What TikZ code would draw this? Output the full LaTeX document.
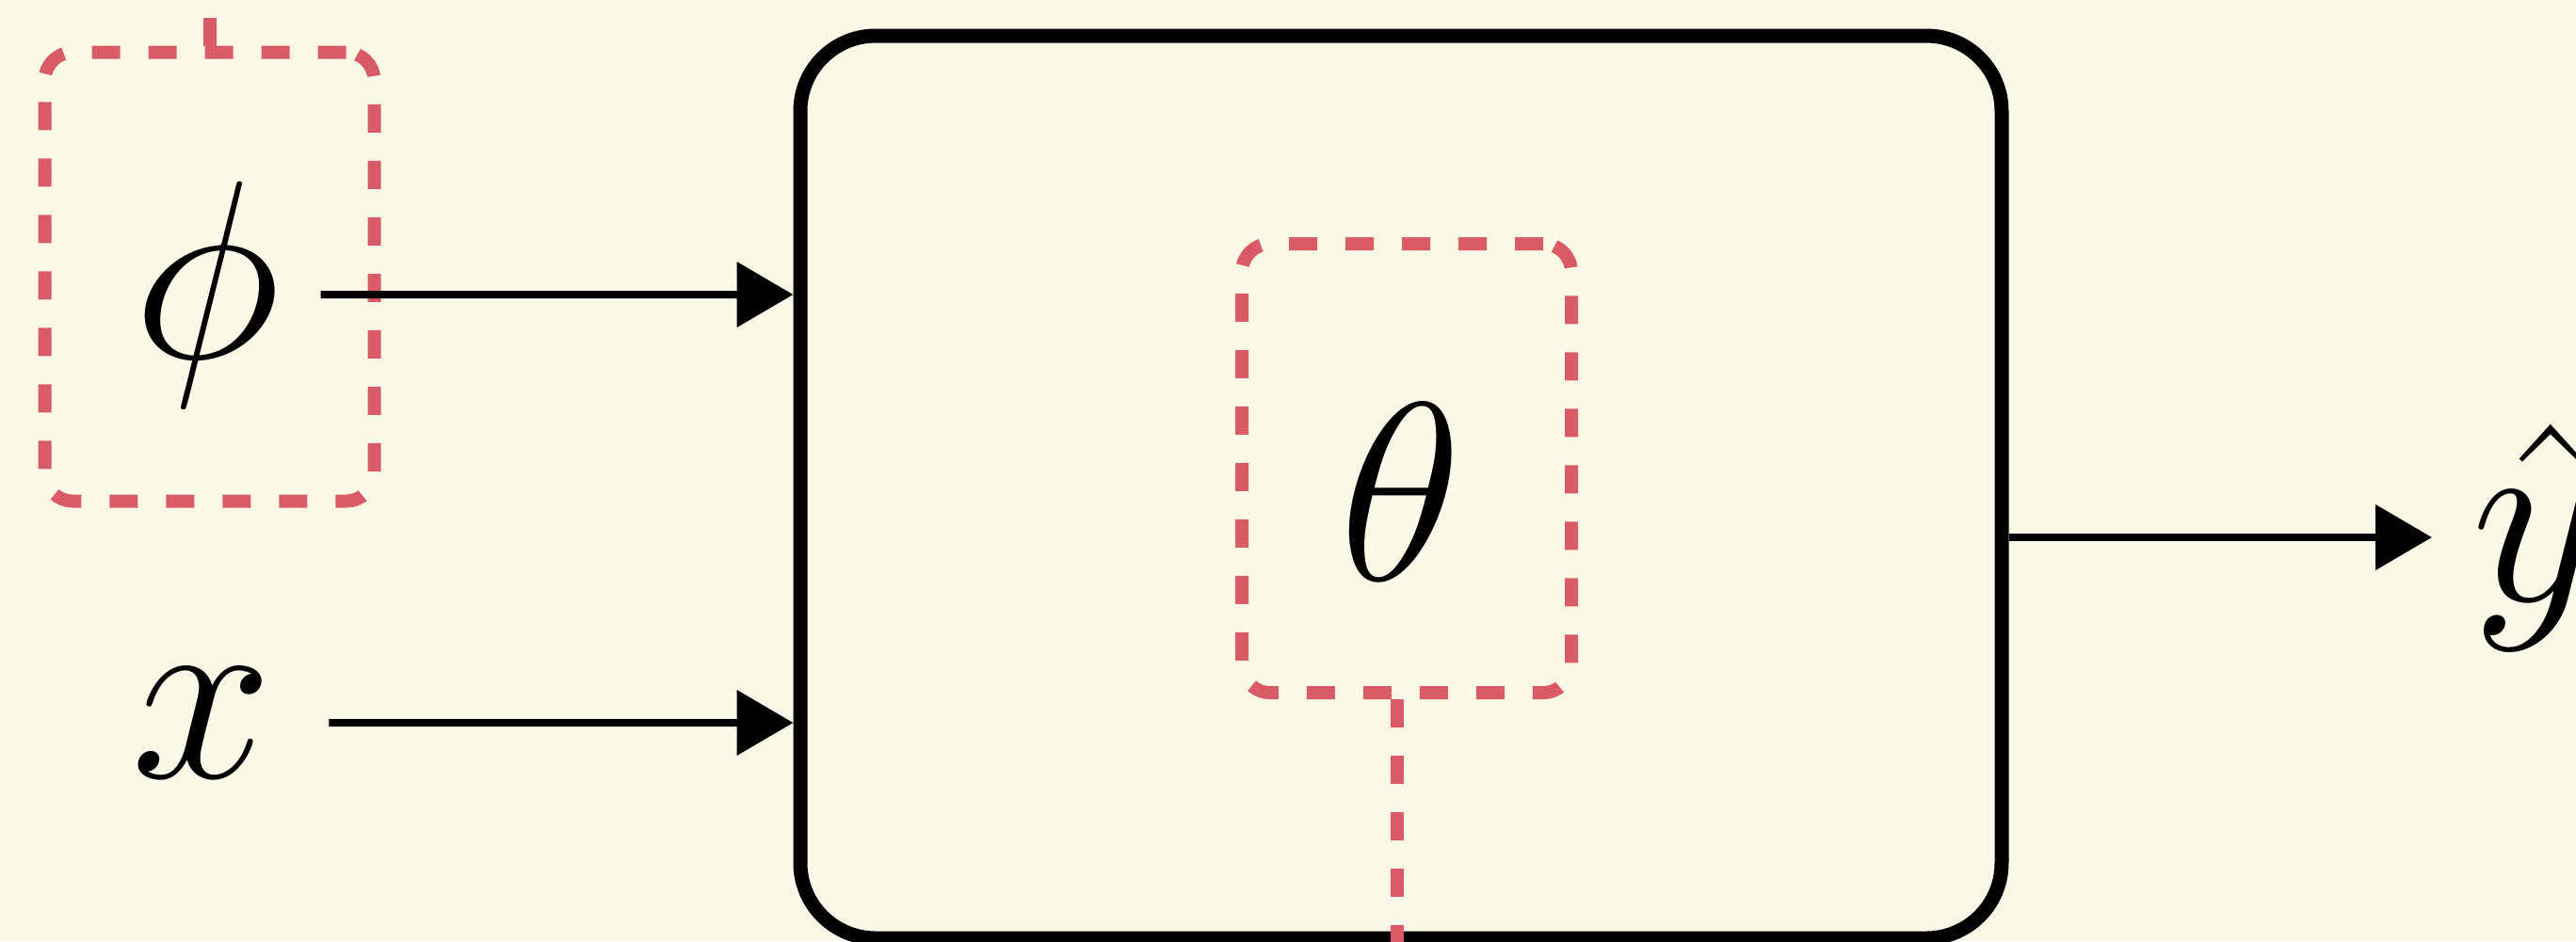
\documentclass[tikz,border=0pt]{standalone}
\usetikzlibrary{arrows.meta}
\definecolor{paper}{RGB}{250,249,232}
\definecolor{hyper}{RGB}{217,91,102}

\begin{document}
\begin{tikzpicture}[x=1pt, y=1pt,
    block/.style={rectangle, draw, rounded corners=8pt, line width=1.5pt, minimum width=127.6pt, minimum height=95.9pt},
    param/.style={rectangle, draw=hyper, dashed, rounded corners=3pt, line width=1.4pt, minimum width=35pt, minimum height=47.7pt},
    sym/.style={inner sep=3.7pt, font=\Huge, scale=1.085},
    arrow/.style={-{Triangle[length=6pt, width=6.8pt]}, line width=0.8pt},
    link/.style={draw=hyper, dashed, line width=1.4pt}
]
    \path[use as bounding box, fill=paper] (0,0) rectangle (273.6,100);
    \clip (0,0) rectangle (273.6,100);

    \node[block] (net) at (148.8,48.25) {};
    \node[param] (phibox) at (22.25,70.6) {};
    \node[param] (thetabox) at (149.4,50.25) {};
    \node[sym] (phi) at (22,68.7) {$\phi$};
    \node[sym] (x) at (21.5,23.2) {$x$};
    \node[sym] (theta) at (148.8,47.7) {$\theta$};
    \node[sym, anchor=west] (yhat) at (258.3,42.9) {$\hat{y}$};
    \coordinate (phiin) at (22.25,110);
    \coordinate (thetain) at (148.4,-10);

    \draw[arrow] (phi) -- (phi -| net.west);
    \draw[arrow, shorten <=1.7pt] (x) -- (x -| net.west);
    \draw[arrow] (net.east |- yhat.west) -- (yhat.west);
    \draw[link] (phibox.north) -- (phiin);
    \draw[link] (thetain |- thetabox.south) -- (thetain);
\end{tikzpicture}
\end{document}
